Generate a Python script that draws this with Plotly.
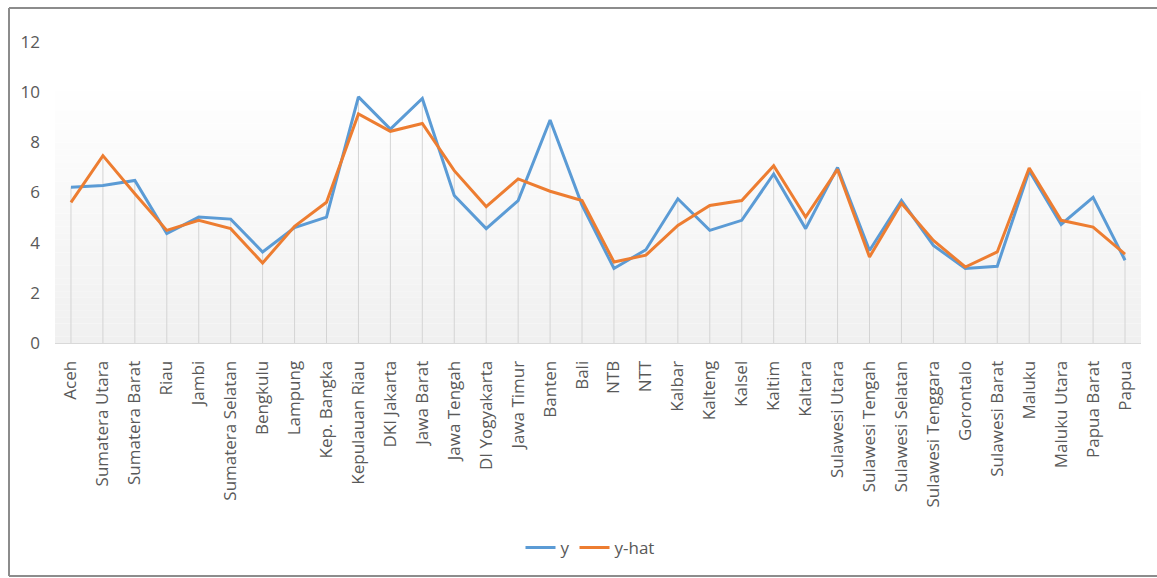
import plotly.graph_objects as go

provinces = ["Aceh", "Sumatera Utara", "Sumatera Barat", "Riau", "Jambi", "Sumatera Selatan",
             "Bengkulu", "Lampung", "Kep. Bangka", "Kepulauan Riau", "DKI Jakarta", "Jawa Barat",
             "Jawa Tengah", "DI Yogyakarta", "Jawa Timur", "Banten", "Bali", "NTB", "NTT",
             "Kalbar", "Kalteng", "Kalsel", "Kaltim", "Kaltara", "Sulawesi Utara", "Sulawesi Tengah",
             "Sulawesi Selatan", "Sulawesi Tenggara", "Gorontalo", "Sulawesi Barat", "Maluku",
             "Maluku Utara", "Papua Barat", "Papua"]

y_values = [6.21, 6.28, 6.48, 4.36, 5.02, 4.94, 3.63, 4.60, 5.02, 9.81, 8.53, 9.75,
            5.88, 4.56, 5.68, 8.89, 5.50, 2.97, 3.72, 5.75, 4.49, 4.89, 6.74, 4.56,
            7.00, 3.69, 5.68, 3.89, 2.97, 3.06, 6.87, 4.73, 5.81, 3.30]

yhat_values = [5.61, 7.47, 5.95, 4.49, 4.89, 4.56, 3.19, 4.65, 5.61, 9.13, 8.44, 8.75,
               6.87, 5.44, 6.54, 6.05, 5.68, 3.23, 3.50, 4.69, 5.48, 5.68, 7.07, 5.02,
               6.92, 3.43, 5.57, 4.09, 3.03, 3.63, 6.98, 4.89, 4.62, 3.54]

y_ticks = [0, 2, 4, 6, 8, 10, 12]

BLUE = "#5B9BD5"
ORANGE = "#ED7D31"
TEXT = "#595959"
FONT = "Open Sans"

W, H = 1157, 578
ML, MR, MT, MB = 55, 16, 42, 235
PW, PH = W - ML - MR, H - MT - MB


def px_to_paper_x(px):
    return (px - ML) / PW


def px_to_paper_y(py):
    return (H - MB - py) / PH


# drop lines from axis to the higher of the two series
drop_x, drop_y = [], []
for cat, a, b in zip(provinces, y_values, yhat_values):
    drop_x += [cat, cat, None]
    drop_y += [0, max(a, b), None]

fig = go.Figure()
fig.add_trace(go.Scatter(x=drop_x, y=drop_y, mode="lines",
                         line=dict(color="#d4d4d4", width=1),
                         showlegend=False, hoverinfo="skip"))
fig.add_trace(go.Scatter(x=provinces, y=y_values, mode="lines", name="y",
                         line=dict(color=BLUE, width=3)))
fig.add_trace(go.Scatter(x=provinces, y=yhat_values, mode="lines", name="y-hat",
                         line=dict(color=ORANGE, width=3)))

# vertical gradient background (white at top to light grey at bottom)
shapes = []
nb = 40
top_v = 10.3
for i in range(nb):
    y0 = top_v * i / nb
    y1 = top_v * (i + 1) / nb
    t = (i + 0.5) / nb
    c = int(round(240 + (255 - 240) * t))
    shapes.append(dict(type="rect", xref="paper", yref="y", x0=0, x1=1, y0=y0, y1=y1,
                       fillcolor=f"rgb({c},{c},{c})", line=dict(width=0), layer="below"))

# outer frame (left, top, bottom visible; right edge cut off)
frame = dict(color="#8c8c8c", width=2)
xl, xr = px_to_paper_x(9), px_to_paper_x(W + 5)
yt, yb = px_to_paper_y(8), px_to_paper_y(576)
shapes.append(dict(type="line", xref="paper", yref="paper", x0=xl, x1=xl, y0=yb, y1=yt, line=frame))
shapes.append(dict(type="line", xref="paper", yref="paper", x0=xl, x1=xr, y0=yt, y1=yt, line=frame))
shapes.append(dict(type="line", xref="paper", yref="paper", x0=xl, x1=xr, y0=yb, y1=yb, line=frame))

fig.update_layout(
    width=W, height=H,
    margin=dict(l=ML, r=MR, t=MT, b=MB, pad=0),
    paper_bgcolor="white", plot_bgcolor="white",
    font=dict(family=FONT, size=17, color=TEXT),
    shapes=shapes,
    showlegend=True,
    legend=dict(orientation="h", x=px_to_paper_x(590), xanchor="center",
                y=px_to_paper_y(548), yanchor="middle",
                font=dict(family=FONT, size=17, color=TEXT),
                bgcolor="rgba(0,0,0,0)", itemwidth=30),
    xaxis=dict(type="category", range=[-0.5, len(provinces) - 0.5], tickangle=-90,
               showgrid=False, showline=True,
               linecolor="#d9d9d9", linewidth=1, ticks="", zeroline=False,
               ticklabelstandoff=10, tickfont=dict(family=FONT, size=17, color=TEXT)),
    yaxis=dict(range=[0, 12], tickvals=y_ticks, showgrid=False, showline=False,
               zeroline=False, ticks="", ticklabelstandoff=14,
               tickfont=dict(family=FONT, size=17, color=TEXT)),
)

fig.write_html("out.html")
